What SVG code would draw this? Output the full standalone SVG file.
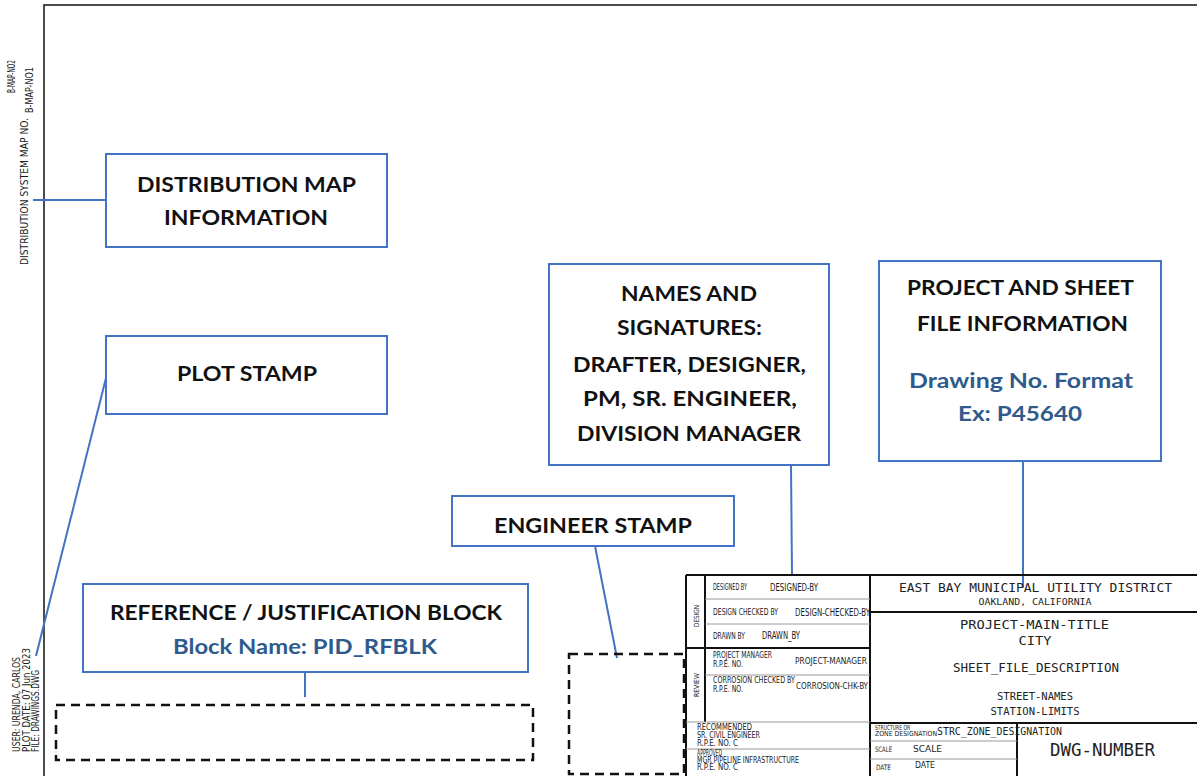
<svg xmlns="http://www.w3.org/2000/svg" width="1197" height="776" viewBox="0 0 1197 776">
  <style>
    .callout { fill: #ffffff; stroke: #4472C4; stroke-width: 2; }
    .lead { fill: none; stroke: #4472C4; stroke-width: 2; }
    .label { font-family: Lato, "Open Sans", "Liberation Sans", sans-serif; font-weight: bold; font-size: 21px; fill: #111111; text-anchor: middle; }
    .label-blue { fill: #2E5B8C; }
    .placeholder { fill: none; stroke: #111111; stroke-width: 2.5; stroke-dasharray: 9 6; }
    .frame { fill: none; stroke: #111111; stroke-width: 1.5; }
    .tb-thick { stroke: #111111; stroke-width: 2; }
    .tb-thin { stroke: #9a9a9a; stroke-width: 1; }
    .cad { font-family: "Liberation Sans Narrow", "DejaVu Sans Condensed", "Liberation Sans", sans-serif; fill: #1a1a1a; }
    .mono { font-family: "DejaVu Sans Mono", "Liberation Mono", monospace; fill: #222222; }
  </style>

  <rect x="0" y="0" width="1197" height="776" fill="#ffffff"/>

  <!-- sheet border -->
  <g id="sheet-border">
    <polyline class="frame" points="44,776 44,5 1197,5"/>
  </g>

  <!-- margin text along the left edge -->
  <g id="margin-map-numbers" class="cad" font-size="10">
    <text transform="translate(15,93) rotate(-90)" textLength="33" lengthAdjust="spacingAndGlyphs">B-MAP-NO2</text>
    <text transform="translate(28,265) rotate(-90)" textLength="147" lengthAdjust="spacingAndGlyphs">DISTRIBUTION SYSTEM MAP NO.</text>
    <text transform="translate(33,113) rotate(-90)" textLength="46" lengthAdjust="spacingAndGlyphs">B-MAP-NO1</text>
  </g>
  <g id="margin-plot-stamp" class="cad" font-size="10">
    <text transform="translate(20,752) rotate(-90)" textLength="95" lengthAdjust="spacingAndGlyphs">USER: URENDA, CARLOS</text>
    <text transform="translate(30,752) rotate(-90)" textLength="104" lengthAdjust="spacingAndGlyphs">PLOT DATE: 07 Jun 2023</text>
    <text transform="translate(39,752) rotate(-90)" textLength="82" lengthAdjust="spacingAndGlyphs">FILE: DRAWINGS.DWG</text>
  </g>

  <!-- connectors -->
  <g id="connectors">
    <line class="lead" x1="33" y1="200" x2="106" y2="200"/>
    <line class="lead" x1="106" y1="378" x2="36" y2="656"/>
    <line class="lead" x1="791" y1="465" x2="792" y2="574"/>
    <line class="lead" x1="1023" y1="461" x2="1023" y2="588"/>
    <line class="lead" x1="595" y1="546" x2="617" y2="658"/>
    <line class="lead" x1="305" y1="672" x2="305" y2="697"/>
  </g>

  <!-- callout: distribution map -->
  <g id="node-distribution-map">
    <rect class="callout" x="106" y="154" width="281" height="93"/>
    <text class="label" x="246.5" y="192" textLength="219" lengthAdjust="spacingAndGlyphs">DISTRIBUTION MAP</text>
    <text class="label" x="246" y="225" textLength="164" lengthAdjust="spacingAndGlyphs">INFORMATION</text>
  </g>

  <!-- callout: plot stamp -->
  <g id="node-plot-stamp">
    <rect class="callout" x="106" y="336" width="281" height="78"/>
    <text class="label" x="247" y="381" textLength="140" lengthAdjust="spacingAndGlyphs">PLOT STAMP</text>
  </g>

  <!-- callout: names and signatures -->
  <g id="node-names-signatures">
    <rect class="callout" x="549" y="264" width="280" height="201"/>
    <text class="label" x="689" y="301" textLength="136" lengthAdjust="spacingAndGlyphs">NAMES AND</text>
    <text class="label" x="689.5" y="335" textLength="145" lengthAdjust="spacingAndGlyphs">SIGNATURES:</text>
    <text class="label" x="689.5" y="372" textLength="233" lengthAdjust="spacingAndGlyphs">DRAFTER, DESIGNER,</text>
    <text class="label" x="690" y="406" textLength="214" lengthAdjust="spacingAndGlyphs">PM, SR. ENGINEER,</text>
    <text class="label" x="689" y="441" textLength="224" lengthAdjust="spacingAndGlyphs">DIVISION MANAGER</text>
  </g>

  <!-- callout: project and sheet file information -->
  <g id="node-project-info">
    <rect class="callout" x="879" y="261" width="282" height="200"/>
    <text class="label" x="1020.5" y="295" textLength="227" lengthAdjust="spacingAndGlyphs">PROJECT AND SHEET</text>
    <text class="label" x="1022.5" y="331" textLength="211" lengthAdjust="spacingAndGlyphs">FILE INFORMATION</text>
    <text class="label label-blue" x="1021" y="388" textLength="224" lengthAdjust="spacingAndGlyphs">Drawing No. Format</text>
    <text class="label label-blue" x="1020" y="421" textLength="124" lengthAdjust="spacingAndGlyphs">Ex: P45640</text>
  </g>

  <!-- callout: engineer stamp -->
  <g id="node-engineer-stamp">
    <rect class="callout" x="452" y="496" width="282" height="50"/>
    <text class="label" x="593" y="533" textLength="198" lengthAdjust="spacingAndGlyphs">ENGINEER STAMP</text>
  </g>

  <!-- callout: reference / justification block -->
  <g id="node-reference-block">
    <rect class="callout" x="83" y="584" width="445" height="88"/>
    <text class="label" x="306" y="620" textLength="392" lengthAdjust="spacingAndGlyphs">REFERENCE / JUSTIFICATION BLOCK</text>
    <text class="label label-blue" x="305" y="654" textLength="264" lengthAdjust="spacingAndGlyphs">Block Name: PID_RFBLK</text>
  </g>

  <!-- reserved areas -->
  <g id="area-reference-block">
    <rect class="placeholder" x="56" y="705" width="477" height="55"/>
  </g>
  <g id="area-engineer-stamp">
    <rect class="placeholder" x="569" y="654" width="115" height="120"/>
  </g>

  <!-- title block -->
  <g id="title-block">
    <!-- rules -->
    <line class="tb-thick" x1="686" y1="575" x2="1197" y2="575"/>
    <line class="tb-thick" x1="686" y1="575" x2="686" y2="776" stroke-width="1.5"/>
    <line class="tb-thick" x1="870" y1="575" x2="870" y2="776"/>
    <line class="tb-thick" x1="705" y1="575" x2="705" y2="722" stroke-width="1"/>
    <line class="tb-thin" x1="705" y1="599" x2="870" y2="599"/>
    <line class="tb-thin" x1="705" y1="624" x2="870" y2="624"/>
    <line class="tb-thick" x1="686" y1="648" x2="870" y2="648"/>
    <line class="tb-thin" x1="705" y1="675" x2="870" y2="675"/>
    <line class="tb-thin" x1="686" y1="722" x2="870" y2="722" stroke-width="1.5"/>
    <line class="tb-thin" x1="686" y1="749" x2="870" y2="749" stroke-width="1.5"/>
    <line class="tb-thick" x1="870" y1="612" x2="1197" y2="612"/>
    <line class="tb-thick" x1="870" y1="723" x2="1197" y2="723"/>
    <line class="tb-thick" x1="1017" y1="723" x2="1017" y2="776"/>
    <line class="tb-thin" x1="870" y1="741" x2="1017" y2="741"/>
    <line class="tb-thin" x1="870" y1="759" x2="1017" y2="759"/>

    <!-- section tags -->
    <text class="cad" font-size="7" transform="translate(699,627) rotate(-90)" textLength="22" lengthAdjust="spacingAndGlyphs">DESIGN</text>
    <text class="cad" font-size="7" transform="translate(699,697) rotate(-90)" textLength="24" lengthAdjust="spacingAndGlyphs">REVIEW</text>

    <!-- design rows -->
    <text class="cad" font-size="8" x="713" y="590" textLength="34" lengthAdjust="spacingAndGlyphs">DESIGNED BY</text>
    <text class="cad" font-size="10" x="770" y="591" textLength="48" lengthAdjust="spacingAndGlyphs">DESIGNED-BY</text>
    <text class="cad" font-size="8" x="713" y="615" textLength="65" lengthAdjust="spacingAndGlyphs">DESIGN CHECKED BY</text>
    <text class="cad" font-size="10" x="795" y="616" textLength="75" lengthAdjust="spacingAndGlyphs">DESIGN-CHECKED-BY</text>
    <text class="cad" font-size="8" x="713" y="639" textLength="32" lengthAdjust="spacingAndGlyphs">DRAWN BY</text>
    <text class="cad" font-size="10" x="762" y="639" textLength="38" lengthAdjust="spacingAndGlyphs">DRAWN_BY</text>

    <!-- review rows -->
    <text class="cad" font-size="8" x="713" y="658" textLength="59" lengthAdjust="spacingAndGlyphs">PROJECT MANAGER</text>
    <text class="cad" font-size="8" x="713" y="667" textLength="30" lengthAdjust="spacingAndGlyphs">R.P.E. NO.</text>
    <text class="cad" font-size="9.5" x="795" y="664" textLength="72" lengthAdjust="spacingAndGlyphs">PROJECT-MANAGER</text>
    <text class="cad" font-size="8" x="713" y="683" textLength="82" lengthAdjust="spacingAndGlyphs">CORROSION CHECKED BY</text>
    <text class="cad" font-size="8" x="713" y="692" textLength="30" lengthAdjust="spacingAndGlyphs">R.P.E. NO.</text>
    <text class="cad" font-size="9.5" x="796" y="689" textLength="72" lengthAdjust="spacingAndGlyphs">CORROSION-CHK-BY</text>

    <!-- approvals -->
    <text class="cad" font-size="8" x="697" y="730" textLength="55" lengthAdjust="spacingAndGlyphs">RECOMMENDED</text>
    <text class="cad" font-size="8" x="697" y="738" textLength="63" lengthAdjust="spacingAndGlyphs">SR. CIVIL ENGINEER</text>
    <text class="cad" font-size="8" x="697" y="746" textLength="41" lengthAdjust="spacingAndGlyphs">R.P.E. NO. C</text>
    <text class="cad" font-size="8" x="697" y="756" textLength="25" lengthAdjust="spacingAndGlyphs">APPROVED</text>
    <text class="cad" font-size="8" x="697" y="763" textLength="102" lengthAdjust="spacingAndGlyphs">MGR PIPELINE INFRASTRUCTURE</text>
    <text class="cad" font-size="8" x="697" y="770" textLength="41" lengthAdjust="spacingAndGlyphs">R.P.E. NO. C</text>

    <!-- district header -->
    <text class="mono" font-size="13" x="1035.5" y="592" text-anchor="middle" textLength="273" lengthAdjust="spacingAndGlyphs">EAST BAY MUNICIPAL UTILITY DISTRICT</text>
    <text class="mono" font-size="9.5" x="1035" y="605" text-anchor="middle" textLength="113" lengthAdjust="spacingAndGlyphs">OAKLAND, CALIFORNIA</text>

    <!-- project titles -->
    <text class="mono" font-size="13" x="1034.5" y="629" text-anchor="middle" textLength="149" lengthAdjust="spacingAndGlyphs">PROJECT-MAIN-TITLE</text>
    <text class="mono" font-size="13" x="1035" y="645" text-anchor="middle" textLength="33" lengthAdjust="spacingAndGlyphs">CITY</text>
    <text class="mono" font-size="12" x="1036" y="672" text-anchor="middle" textLength="166" lengthAdjust="spacingAndGlyphs">SHEET_FILE_DESCRIPTION</text>
    <text class="mono" font-size="10.5" x="1035" y="700" text-anchor="middle" textLength="76" lengthAdjust="spacingAndGlyphs">STREET-NAMES</text>
    <text class="mono" font-size="10.5" x="1035" y="715" text-anchor="middle" textLength="89" lengthAdjust="spacingAndGlyphs">STATION-LIMITS</text>

    <!-- zone, scale, date -->
    <text class="cad" font-size="7" x="875" y="730" textLength="35" lengthAdjust="spacingAndGlyphs">STRUCTURE OR</text>
    <text class="cad" font-size="7" x="875" y="736" textLength="62" lengthAdjust="spacingAndGlyphs">ZONE DESIGNATION</text>
    <text class="mono" font-size="10" x="937" y="735" textLength="125" lengthAdjust="spacingAndGlyphs">STRC_ZONE_DESIGNATION</text>
    <text class="cad" font-size="7.5" x="875" y="752" textLength="17" lengthAdjust="spacingAndGlyphs">SCALE</text>
    <text class="cad" font-size="9.5" x="913" y="752" textLength="29" lengthAdjust="spacingAndGlyphs">SCALE</text>
    <text class="cad" font-size="7.5" x="876" y="770" textLength="15" lengthAdjust="spacingAndGlyphs">DATE</text>
    <text class="cad" font-size="9.5" x="915" y="768" textLength="20" lengthAdjust="spacingAndGlyphs">DATE</text>
    <text class="mono" font-size="17" x="1102.5" y="756" text-anchor="middle" textLength="105" lengthAdjust="spacingAndGlyphs">DWG-NUMBER</text>
  </g>
</svg>
